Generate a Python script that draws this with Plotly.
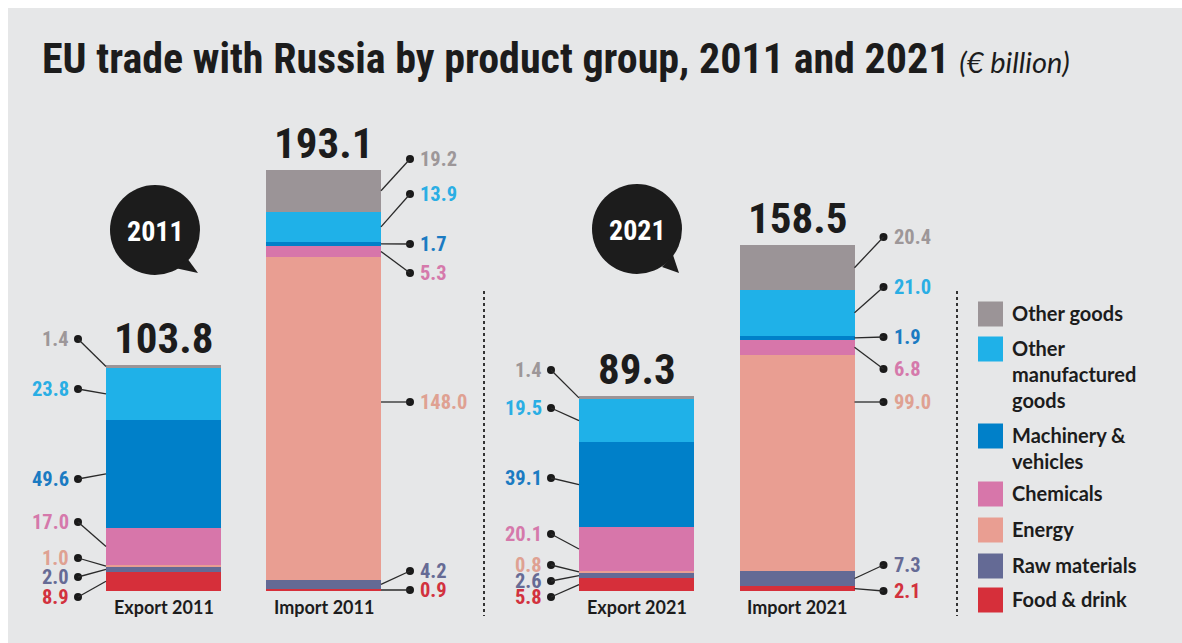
import plotly.graph_objects as go

# ---------------- data ----------------
bars = ["Export 2011", "Import 2011", "Export 2021", "Import 2021"]
totals = [103.8, 193.1, 89.3, 158.5]
categories = ["Food & drink", "Raw materials", "Energy", "Chemicals",
              "Machinery & vehicles", "Other manufactured goods", "Other goods"]
food = [8.9, 0.9, 5.8, 2.1]
raw = [2.0, 4.2, 2.6, 7.3]
energy = [1.0, 148.0, 0.8, 99.0]
chemicals = [17.0, 5.3, 20.1, 6.8]
machinery = [49.6, 1.7, 39.1, 1.9]
other_manuf = [23.8, 13.9, 19.5, 21.0]
other_goods = [1.4, 19.2, 1.4, 20.4]
years = ["2011", "2021"]
legend_labels = ["Other goods", "Other<br>manufactured<br>goods", "Machinery &<br>vehicles",
                 "Chemicals", "Energy", "Raw materials", "Food & drink"]
title = "EU trade with Russia by product group, 2011 and 2021"
subtitle = "(€ billion)"

# ---------------- layout / style ----------------
W, H = 1182, 643
Y0, K = 591.0, 2.18          # pixel of value 0, pixels per € billion


def Y(py):
    return (Y0 - py) / K


bar_x = [163.5, 323.5, 636.5, 797.0]
bar_w = 115
side = ["left", "right", "left", "right"]

series = [food, raw, energy, chemicals, machinery, other_manuf, other_goods]
colors = ["#d62f3a", "#646a95", "#e99e92", "#d776aa", "#0080c9", "#1fb1e8", "#9b9497"]
label_colors = ["#d2323e", "#666b95", "#dfa192", "#d579ab", "#1b7bc2", "#2aaee4", "#9d9799"]

# label vertical positions (in value units) per bar, bottom → top category order
label_pos = [
    [Y(597), Y(577), Y(558), Y(522), Y(479), Y(389), Y(339)],
    [Y(590), Y(571), Y(402), Y(273), Y(244), Y(194), Y(159)],
    [Y(597), Y(581), Y(565), Y(534), Y(478), Y(408), Y(370)],
    [Y(591), Y(565), Y(402), Y(369), Y(337), Y(287), Y(237)],
]

NARROW = "Roboto Condensed, Lato, sans-serif"
SANS = "Lato, Open Sans, sans-serif"
DARK = "#1c1c1c"

fig = go.Figure()
for name, vals, col in zip(categories, series, colors):
    fig.add_trace(go.Bar(x=bar_x, y=vals, width=bar_w, name=name,
                         marker=dict(color=col, line=dict(width=0)),
                         showlegend=False, hoverinfo="skip"))

shapes = []
annotations = []

# background panel
shapes.append(dict(type="rect", xref="paper", yref="paper", x0=8 / W, x1=1, y0=0, y1=1 - 8 / H,
                   fillcolor="#e6e7e8", line=dict(width=0), layer="below"))

# leader lines, dots and value labels
dot_x, dot_y = [], []
for b in range(len(bars)):
    base = 0.0
    left = side[b] == "left"
    edge = bar_x[b] - bar_w / 2 if left else bar_x[b] + bar_w / 2
    dx = edge - 28 if left else edge + 29
    for c in range(len(series)):
        v = series[c][b]
        lo, hi = base, base + v
        base = hi
        ly = label_pos[b][c]
        if v > 60:
            ay = min(max(ly, lo), hi)
        else:
            ay = (lo + hi) / 2
        shapes.append(dict(type="line", xref="x", yref="y", x0=dx, y0=ly, x1=edge, y1=ay,
                           line=dict(color="#2a2a2a", width=1.3)))
        dot_x.append(dx)
        dot_y.append(ly)
        annotations.append(dict(x=dx - 7 if left else dx + 8, y=ly, xref="x", yref="y",
                                text=f"<b>{v:.1f}</b>", showarrow=False,
                                xanchor="right" if left else "left", yanchor="middle",
                                font=dict(family=NARROW, size=20.5, color=label_colors[c])))
    # totals
    annotations.append(dict(x=bar_x[b], y=totals[b], xref="x", yref="y", text=f"<b>{totals[b]:.1f}</b>",
                            showarrow=False, xanchor="center", yanchor="bottom", yshift=0,
                            font=dict(family=NARROW, size=43, color=DARK)))
    # bar names
    annotations.append(dict(x=bar_x[b], y=Y(607), xref="x", yref="y", text=f"<b>{bars[b]}</b>",
                            showarrow=False, xanchor="center", yanchor="middle",
                            font=dict(family=SANS, size=18, color=DARK)))

fig.add_trace(go.Scatter(x=dot_x, y=dot_y, mode="markers", showlegend=False, hoverinfo="skip",
                         marker=dict(size=8, color="#1a1a1a")))

# year bubbles
bubbles = [(155, 230, [(187, 258), (198, 273), (175, 268)]),
           (637, 229, [(673, 255), (679, 273), (662, 267)])]
for (cx, cy, tail), yr in zip(bubbles, years):
    r = 45
    shapes.append(dict(type="circle", xref="x", yref="y", x0=cx - r, x1=cx + r, y0=Y(cy + r), y1=Y(cy - r),
                       fillcolor="#1c1c1c", line=dict(width=0)))
    path = "M " + " L ".join(f"{px},{Y(py)}" for px, py in tail) + " Z"
    shapes.append(dict(type="path", xref="x", yref="y", path=path, fillcolor="#1c1c1c", line=dict(width=0)))
    annotations.append(dict(x=cx, y=Y(cy + 1), xref="x", yref="y", text=f"<b>{yr}</b>", showarrow=False,
                            xanchor="center", yanchor="middle",
                            font=dict(family=NARROW, size=28, color="white")))

# dotted separators
for sx in (484, 957):
    shapes.append(dict(type="line", xref="x", yref="y", x0=sx, x1=sx, y0=Y(291), y1=Y(616),
                       line=dict(color="#333333", width=2, dash="dot")))

# legend
leg_rows = [314, 349, 436, 494, 530, 566, 600]
leg_order = [6, 5, 4, 3, 2, 1, 0]
for row_y, ci, lab in zip(leg_rows, leg_order, legend_labels):
    shapes.append(dict(type="rect", xref="x", yref="y", x0=978, x1=1003, y0=Y(row_y + 12.5), y1=Y(row_y - 12.5),
                       fillcolor=colors[ci], line=dict(width=0)))
    annotations.append(dict(x=1010, y=Y(row_y - 15), xref="x", yref="y", text=f"<b>{lab}</b>",
                            showarrow=False, xanchor="left", yanchor="top", align="left",
                            font=dict(family=SANS, size=20, color=DARK)))

# title
annotations.append(dict(x=40, y=Y(58), xref="x", yref="y", showarrow=False, xanchor="left", yanchor="middle",
                        text=f"<b>{title}</b> <span style='font-family:Lato;font-size:29px'><i>{subtitle}</i></span>",
                        font=dict(family=NARROW, size=42, color=DARK)))

fig.update_layout(
    width=W, height=H, margin=dict(l=0, r=0, t=0, b=0),
    paper_bgcolor="white", plot_bgcolor="rgba(0,0,0,0)",
    barmode="stack", bargap=0,
    xaxis=dict(range=[0, W], visible=False, fixedrange=True),
    yaxis=dict(range=[Y(H), Y(0)], visible=False, fixedrange=True),
    shapes=shapes, annotations=annotations,
)

fig.write_html("out.html", config={"displayModeBar": False},
               post_script="document.body.style.margin='0';document.body.style.overflow='hidden';")
